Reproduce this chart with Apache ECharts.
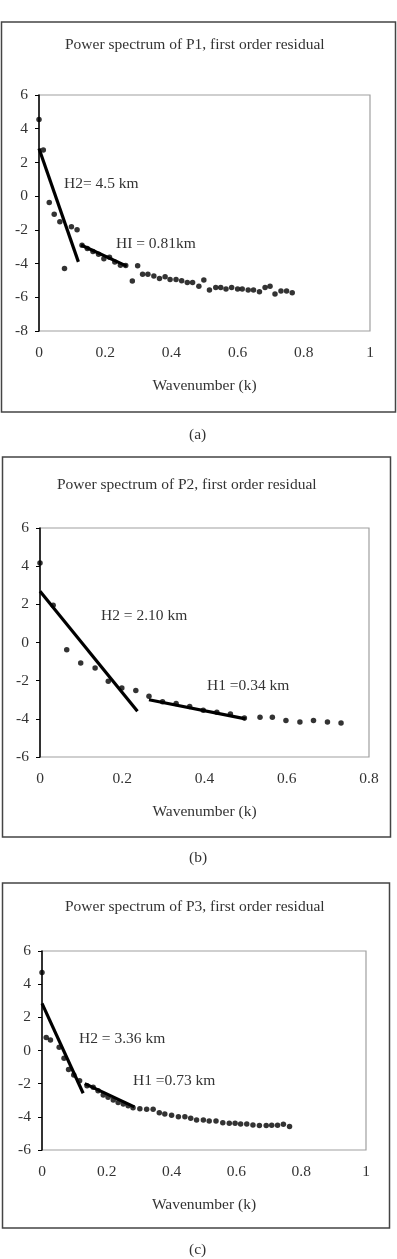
<!DOCTYPE html>
<html>
<head>
<meta charset="utf-8">
<script src="https://cdn.jsdelivr.net/npm/echarts@6/dist/echarts.min.js"></script>
<style>
  html, body { margin: 0; padding: 0; background: #fff; }
  #chart { width: 397px; height: 1259px; }
</style>
</head>
<body>
<div id="chart"></div>
<script>
// ---- P1 (a) ----
const p1K = [0, 0.013, 0.031, 0.046, 0.063, 0.077, 0.098, 0.115, 0.130, 0.146, 0.163, 0.180, 0.196, 0.213,
  0.229, 0.246, 0.262, 0.282, 0.298, 0.313, 0.329, 0.347, 0.364, 0.381, 0.396, 0.414, 0.431, 0.448, 0.464,
  0.483, 0.498, 0.515, 0.534, 0.549, 0.565, 0.582, 0.600, 0.614, 0.632, 0.648, 0.666, 0.683, 0.698, 0.713,
  0.731, 0.748, 0.765]
const p1Power = [4.55, 2.73, -0.38, -1.07, -1.52, -4.29, -1.82, -2.0, -2.92, -3.1, -3.28, -3.45, -3.72, -3.62,
  -3.9, -4.1, -4.12, -5.04, -4.13, -4.64, -4.64, -4.74, -4.88, -4.78, -4.94, -4.94, -5.02, -5.12, -5.12,
  -5.34, -4.98, -5.57, -5.42, -5.42, -5.51, -5.42, -5.51, -5.51, -5.57, -5.57, -5.67, -5.42, -5.34, -5.81,
  -5.63, -5.63, -5.73]
const p1H2K = [0, 0.119]
const p1H2Power = [2.83, -3.9]
const p1H1K = [0.127, 0.265]
const p1H1Power = [-2.9, -4.15]
const p1XRange = [0, 1]
const p1YRange = [-8, 6]

// ---- P2 (b) ----
const p2K = [0, 0.032, 0.065, 0.099, 0.134, 0.166, 0.199, 0.233, 0.265, 0.298, 0.331, 0.364, 0.397, 0.430,
  0.463, 0.497, 0.535, 0.565, 0.598, 0.632, 0.665, 0.699, 0.732]
const p2Power = [4.17, 1.95, -0.38, -1.07, -1.34, -2.03, -2.38, -2.52, -2.82, -3.1, -3.2, -3.35, -3.55, -3.65,
  -3.75, -3.95, -3.92, -3.92, -4.09, -4.16, -4.09, -4.16, -4.22]
const p2H2K = [0, 0.237]
const p2H2Power = [2.68, -3.6]
const p2H1K = [0.265, 0.5]
const p2H1Power = [-3.0, -4.0]
const p2XRange = [0, 0.8]
const p2YRange = [-6, 6]

// ---- P3 (c) ----
const p3K = [0, 0.013, 0.026, 0.053, 0.068, 0.082, 0.098, 0.116, 0.139, 0.158, 0.173, 0.189, 0.204, 0.220,
  0.235, 0.251, 0.266, 0.281, 0.302, 0.323, 0.343, 0.362, 0.379, 0.400, 0.421, 0.441, 0.459, 0.477, 0.498,
  0.516, 0.537, 0.558, 0.578, 0.596, 0.613, 0.632, 0.651, 0.671, 0.692, 0.709, 0.727, 0.745, 0.764]
const p3Power = [4.71, 0.79, 0.63, 0.19, -0.47, -1.14, -1.48, -1.82, -2.12, -2.22, -2.42, -2.68, -2.82, -2.98,
  -3.13, -3.23, -3.33, -3.45, -3.51, -3.55, -3.55, -3.75, -3.83, -3.91, -3.99, -3.99, -4.09, -4.19, -4.19,
  -4.25, -4.25, -4.35, -4.39, -4.39, -4.43, -4.43, -4.49, -4.53, -4.53, -4.51, -4.51, -4.45, -4.59]
const p3H2K = [0, 0.127]
const p3H2Power = [2.84, -2.58]
const p3H1K = [0.132, 0.285]
const p3H1Power = [-2.0, -3.4]
const p3XRange = [0, 1]
const p3YRange = [-6, 6]

const FONT = 'Liberation Serif, Times New Roman, serif'
const TXT = '#333'

// 每个面板的布局
const panels = [
  {
    title: 'Power spectrum of P1, first order residual', titleLeft: 65, titleTop: 37,
    caption: '(a)', captionTop: 427,
    grid: { left: 39, top: 95, width: 331, height: 236 },
    frame: [1.5, 22, 394, 390],
    k: p1K, p: p1Power, h2: [p1H2K, p1H2Power], h1: [p1H1K, p1H1Power],
    xr: p1XRange, yr: p1YRange,
    notes: [['H2= 4.5 km', 64, 184], ['HI = 0.81km', 116, 244]]
  },
  {
    title: 'Power spectrum of P2, first order residual', titleLeft: 57, titleTop: 477,
    caption: '(b)', captionTop: 850,
    grid: { left: 40, top: 528, width: 329, height: 229 },
    frame: [2.5, 457, 388, 380],
    k: p2K, p: p2Power, h2: [p2H2K, p2H2Power], h1: [p2H1K, p2H1Power],
    xr: p2XRange, yr: p2YRange,
    notes: [['H2 = 2.10 km', 101, 616], ['H1 =0.34 km', 207, 686]]
  },
  {
    title: 'Power spectrum of P3, first order residual', titleLeft: 65, titleTop: 899,
    caption: '(c)', captionTop: 1242,
    grid: { left: 42, top: 951, width: 324, height: 199 },
    frame: [2.5, 883, 387, 345],
    k: p3K, p: p3Power, h2: [p3H2K, p3H2Power], h1: [p3H1K, p3H1Power],
    xr: p3XRange, yr: p3YRange,
    notes: [['H2 = 3.36 km', 79, 1039], ['H1 =0.73 km', 133, 1081]]
  }
]

const zip = (a, b) => a.map((v, i) => [v, b[i]])

const option = {
  backgroundColor: '#fff',
  animation: false,
  title: [],
  grid: [],
  xAxis: [],
  yAxis: [],
  series: [],
  graphic: []
}

panels.forEach((pn, i) => {
  option.title.push({
    text: pn.title, left: pn.titleLeft, top: pn.titleTop, padding: 0,
    textStyle: { fontFamily: FONT, fontSize: 15.5, fontWeight: 'normal', color: TXT }
  })
  option.title.push({
    text: pn.caption, left: 189, top: pn.captionTop, padding: 0,
    textStyle: { fontFamily: FONT, fontSize: 15.5, fontWeight: 'normal', color: TXT }
  })
  option.grid.push(Object.assign({ show: true, borderColor: '#a0a0a0', borderWidth: 1.2 }, pn.grid))
  option.xAxis.push({
    gridIndex: i, type: 'value', min: pn.xr[0], max: pn.xr[1], interval: 0.2,
    name: 'Wavenumber (k)', nameLocation: 'middle', nameGap: 47,
    nameTextStyle: { fontFamily: FONT, fontSize: 15.5, color: TXT },
    axisLine: { show: false }, axisTick: { show: false }, splitLine: { show: false },
    axisLabel: { fontFamily: FONT, fontSize: 15.5, color: TXT, margin: 14 }
  })
  option.yAxis.push({
    gridIndex: i, type: 'value', min: pn.yr[0], max: pn.yr[1], interval: 2,
    axisLine: { show: true, onZero: false, lineStyle: { color: '#000', width: 1.5 } },
    axisTick: { show: true, length: 4, lineStyle: { color: '#000' } },
    splitLine: { show: false },
    axisLabel: { fontFamily: FONT, fontSize: 15.5, color: TXT, margin: 11 }
  })
  // y=0 处白色横线（原图轴线在0处断开）
  const pad = (pn.xr[1] - pn.xr[0]) * 0.012
  option.series.push({
    type: 'line', xAxisIndex: i, yAxisIndex: i, z: 1, clip: false, silent: true,
    data: [[pn.xr[0], 0]], showSymbol: false, lineStyle: { width: 0 },
    markLine: {
      symbol: 'none', silent: true, label: { show: false },
      lineStyle: { color: '#fff', width: 4, type: 'solid' },
      data: [[{ coord: [pn.xr[0] - pad, 0] }, { coord: [pn.xr[1] + pad, 0] }]]
    }
  })
  // 拟合直线
  ;[pn.h2, pn.h1].forEach((fit) => {
    option.series.push({
      type: 'line', xAxisIndex: i, yAxisIndex: i, z: 3,
      data: zip(fit[0], fit[1]), symbol: 'none',
      lineStyle: { color: '#000', width: 3.2 }
    })
  })
  // 数据点
  option.series.push({
    type: 'scatter', xAxisIndex: i, yAxisIndex: i, z: 4,
    data: zip(pn.k, pn.p), symbol: 'circle', symbolSize: 5.5,
    itemStyle: { color: '#000' }
  })
  // 外框
  option.graphic.push({
    type: 'rect', silent: true, z: -1,
    shape: { x: pn.frame[0], y: pn.frame[1], width: pn.frame[2], height: pn.frame[3] },
    style: { fill: 'none', stroke: '#444', lineWidth: 1.5 }
  })
  // 注释文字
  pn.notes.forEach((n) => {
    option.graphic.push({
      type: 'text', silent: true, x: n[1], y: n[2],
      style: { text: n[0], font: '15.5px ' + FONT, fill: TXT, verticalAlign: 'middle' }
    })
  })
})

const myChart = echarts.init(document.getElementById('chart'))
myChart.setOption(option)
</script>
</body>
</html>
